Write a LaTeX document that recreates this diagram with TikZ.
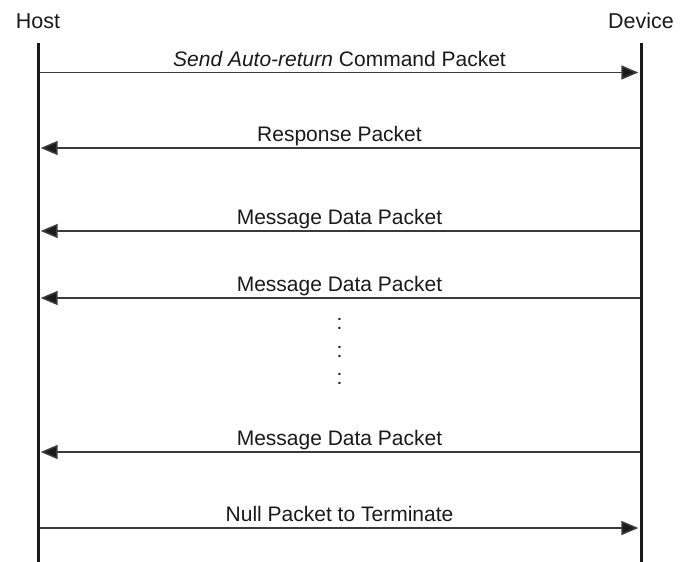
\documentclass[tikz,border=0pt]{standalone}
\usepackage{fontspec}
\setmainfont{Liberation Sans}
\usetikzlibrary{arrows.meta}
\definecolor{ink}{HTML}{1A1A1A}
\definecolor{arrowink}{HTML}{3A3A3A}
\tikzset{
  lifeline/.style={line width=3pt, draw=ink},
  msg/.style={line width=1.6pt, draw=arrowink, -{Triangle[length=17pt,width=14pt,fill=ink]}, shorten >=1.2pt},
  lbl/.style={anchor=base, inner sep=0pt, text=ink, font=\fontsize{21}{25}\selectfont},
  party/.style={anchor=base, inner sep=0pt, text=ink, font=\fontsize{21.5}{25}\selectfont},
}
\begin{document}
\begin{tikzpicture}[x=1pt,y=-1pt]
\useasboundingbox (0,0) rectangle (680,562);
% parties
\node[party] (host) at (38,28) {Host};
\node[party] (dev) at (641,28) {Device};
\coordinate (htop) at (38,43);
\coordinate (hbot) at (38,562);
\coordinate (dtop) at (641,43);
\coordinate (dbot) at (641,562);
\draw[lifeline] (htop) -- (hbot);
\draw[lifeline] (dtop) -- (dbot);
% message points
\foreach \i/\y in {1/72.5,2/148,3/231,4/298,5/452,6/528}{
  \coordinate (h\i) at (39.5,\y);
  \coordinate (d\i) at (639.5,\y);
}
\draw[msg] (h1) -- node[lbl, above=6.5pt, anchor=base] (l1) {\textit{Send Auto-return} Command Packet} (d1);
\draw[msg] (d2) -- node[lbl, above=6.5pt, anchor=base] (l2) {Response Packet} (h2);
\draw[msg] (d3) -- node[lbl, above=6.5pt, anchor=base] (l3) {Message Data Packet} (h3);
\draw[msg] (d4) -- node[lbl, above=6.5pt, anchor=base] (l4) {Message Data Packet} (h4);
\draw[msg] (d5) -- node[lbl, above=6.5pt, anchor=base] (l5) {Message Data Packet} (h5);
\draw[msg] (h6) -- node[lbl, above=6.5pt, anchor=base] (l6) {Null Packet to Terminate} (d6);
% ellipsis
\node[lbl] (c1) at (339.5,329) {:};
\node[lbl] (c2) at (339.5,357) {:};
\node[lbl] (c3) at (339.5,384) {:};
\end{tikzpicture}
\end{document}
